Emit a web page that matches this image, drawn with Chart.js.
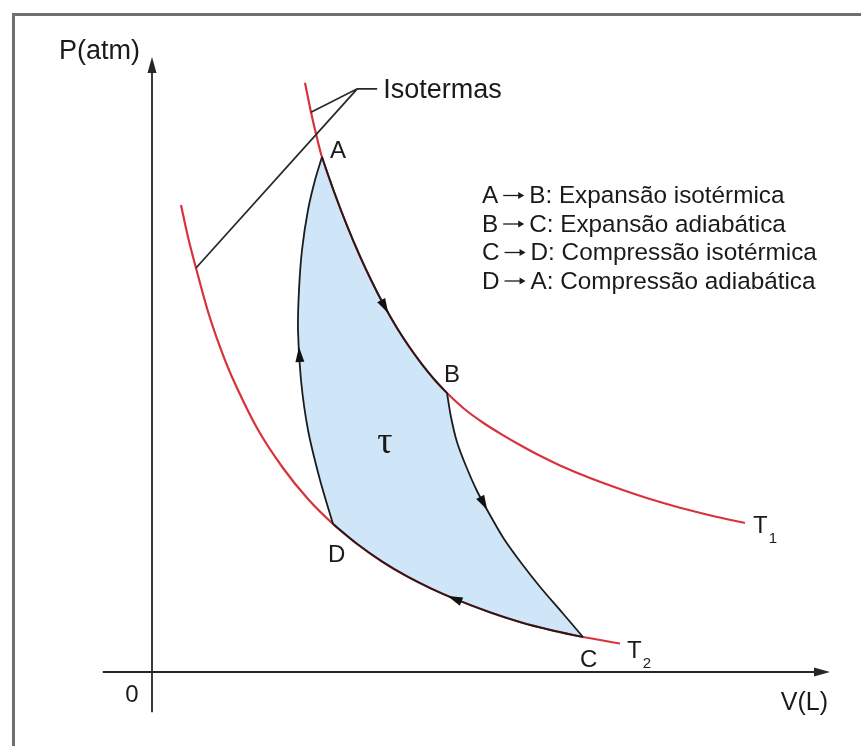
<!DOCTYPE html>
<html><head><meta charset="utf-8">
<script src="https://cdn.jsdelivr.net/npm/chart.js@4.4.0/dist/chart.umd.min.js"></script>
<style>html,body{margin:0;padding:0;background:#fff;} canvas{display:block}</style>
</head><body>
<canvas id="c" width="861" height="746"></canvas>
<script>
// ---- Data (V in L, P in atm; arbitrary drawing units) ----
const isoT1_V = [2.55, 2.65, 2.75, 2.833, 3.042, 3.25, 3.458, 3.667, 3.875, 4.083, 4.292, 4.5, 4.708, 4.917, 5.217, 5.525, 5.833, 6.133, 6.467, 6.8, 7.3, 7.8, 8.3, 8.8, 9.333, 9.883];
const isoT1_P = [9.82, 9.33, 8.9, 8.583, 7.983, 7.44, 6.947, 6.5, 6.095, 5.733, 5.413, 5.127, 4.872, 4.65, 4.375, 4.15, 3.957, 3.783, 3.603, 3.443, 3.233, 3.05, 2.883, 2.738, 2.605, 2.483];
const isoT2_V = [0.483, 0.6, 0.733, 0.933, 1.133, 1.333, 1.75, 2.183, 2.6, 3.017, 3.417, 3.833, 4.233, 4.65, 5.05, 5.633, 6.133, 6.633, 7.183, 7.8];
const isoT2_P = [7.783, 7.25, 6.733, 6.008, 5.417, 4.917, 4.067, 3.4, 2.883, 2.467, 2.135, 1.842, 1.603, 1.392, 1.217, 0.995, 0.833, 0.702, 0.583, 0.475];

// Carnot cycle branches
const AB_V = [2.833, 3.042, 3.25, 3.458, 3.667, 3.875, 4.083, 4.292, 4.5, 4.708, 4.917];
const AB_P = [8.583, 7.983, 7.44, 6.947, 6.5, 6.095, 5.733, 5.413, 5.127, 4.872, 4.65];
const BC_V = [4.917, 4.983, 5.083, 5.233, 5.417, 5.633, 5.867, 6.167, 6.483, 6.842, 7.183];
const BC_P = [4.65, 4.25, 3.833, 3.433, 3.017, 2.617, 2.217, 1.8, 1.4, 0.983, 0.583];
const CD_V = [7.183, 6.633, 6.133, 5.633, 5.05, 4.65, 4.233, 3.833, 3.417, 3.017];
const CD_P = [0.583, 0.702, 0.833, 0.995, 1.217, 1.392, 1.603, 1.842, 2.135, 2.467];
const DA_V = [3.017, 2.8, 2.6, 2.483, 2.433, 2.45, 2.5, 2.6, 2.717, 2.833];
const DA_P = [2.467, 3.2, 4.033, 4.867, 5.7, 6.367, 7.033, 7.7, 8.2, 8.583];

// direction arrows: fractional point index along each branch
const arrowAt = [5, 4.5, 4, 3.5];

// texts
const stateNames = ['A', 'B', 'C', 'D'];
const processTexts = [
  'A \u2192 B: Expans\u00e3o isot\u00e9rmica',
  'B \u2192 C: Expans\u00e3o adiab\u00e1tica',
  'C \u2192 D: Compress\u00e3o isot\u00e9rmica',
  'D \u2192 A: Compress\u00e3o adiab\u00e1tica'
];
const isoLabel = 'Isotermas';
const yTitle = 'P(atm)';
const xTitle = 'V(L)';
const originLabel = '0';
const workLabel = '\u03c4';
const tempNames = [['T', '1'], ['T', '2']];

// axis extents (data units)
const axisVMin = -0.82, axisVMax = 11.3;
const axisPMin = -0.67, axisPMax = 10.25;
const workPos = {v: 3.88, p: 3.65};
const isoAnchor = {v: 3.42, p: 9.72};

// ---- styles ----
const RED = '#d8323c';
const BLACK = '#1c1c1c';
const FILL = '#cfe5f8';
const FONT = '"Liberation Sans", Arial, Helvetica, sans-serif';

const pts = (vs, ps) => vs.map((v, i) => ({x: v, y: ps[i]}));
const branches = [[AB_V, AB_P], [BC_V, BC_P], [CD_V, CD_P], [DA_V, DA_P]];

// closed loop for the shaded work area
const loopV = [].concat(AB_V, BC_V.slice(1), CD_V.slice(1), DA_V.slice(1));
const loopP = [].concat(AB_P, BC_P.slice(1), CD_P.slice(1), DA_P.slice(1));

const decor = {
  id: 'decor',
  beforeDatasetsDraw(chart) {
    const {ctx, scales: {x, y}} = chart;
    ctx.save();
    // frame
    ctx.strokeStyle = '#6f6f6f';
    ctx.lineWidth = 3;
    ctx.strokeRect(13.5, 14.5, 1200, 1200);
    // axes
    const x0 = x.getPixelForValue(0), y0 = y.getPixelForValue(0);
    const xe = x.getPixelForValue(axisVMax), ye = y.getPixelForValue(axisPMax);
    ctx.strokeStyle = '#262626';
    ctx.fillStyle = '#262626';
    ctx.lineWidth = 1.8;
    ctx.beginPath();
    ctx.moveTo(x.getPixelForValue(axisVMin), y0);
    ctx.lineTo(xe - 10, y0);
    ctx.moveTo(x0, y.getPixelForValue(axisPMin));
    ctx.lineTo(x0, ye + 10);
    ctx.stroke();
    ctx.beginPath();
    ctx.moveTo(xe, y0); ctx.lineTo(xe - 16, y0 - 4.5); ctx.lineTo(xe - 16, y0 + 4.5); ctx.closePath();
    ctx.moveTo(x0, ye); ctx.lineTo(x0 - 4.5, ye + 16); ctx.lineTo(x0 + 4.5, ye + 16); ctx.closePath();
    ctx.fill();
    ctx.restore();
  },
  afterDatasetsDraw(chart) {
    const {ctx, scales: {x, y}} = chart;
    const px = (v, p) => [x.getPixelForValue(v), y.getPixelForValue(p)];
    ctx.save();
    // direction arrows on the cycle
    ctx.fillStyle = '#111';
    branches.forEach(([vs, ps], k) => {
      const t = arrowAt[k];
      const i0 = Math.floor(t - 0.001), i1 = Math.ceil(t + 0.001);
      const a = px(vs[Math.floor(t)], ps[Math.floor(t)]);
      const b = px(vs[Math.ceil(t)], ps[Math.ceil(t)]);
      const f = t - Math.floor(t);
      const cx = a[0] + (b[0] - a[0]) * f, cy = a[1] + (b[1] - a[1]) * f;
      const p0 = px(vs[i0], ps[i0]), p1 = px(vs[i1], ps[i1]);
      let dx = p1[0] - p0[0], dy = p1[1] - p0[1];
      const L = Math.hypot(dx, dy); dx /= L; dy /= L;
      const nx = -dy, ny = dx;
      ctx.beginPath();
      ctx.moveTo(cx + dx * 8, cy + dy * 8);
      ctx.lineTo(cx - dx * 7 + nx * 4.5, cy - dy * 7 + ny * 4.5);
      ctx.lineTo(cx - dx * 7 - nx * 4.5, cy - dy * 7 - ny * 4.5);
      ctx.closePath();
      ctx.fill();
    });
    // isotherm pointer lines
    const an = px(isoAnchor.v, isoAnchor.p);
    const t1 = px(isoT1_V[1], isoT1_P[1]);
    const t2 = px(isoT2_V[2], isoT2_P[2]);
    ctx.strokeStyle = '#2a2a2a';
    ctx.lineWidth = 1.8;
    ctx.beginPath();
    ctx.moveTo(t1[0], t1[1]); ctx.lineTo(an[0], an[1]); ctx.lineTo(an[0] + 20, an[1]);
    ctx.moveTo(t2[0], t2[1]); ctx.lineTo(an[0], an[1]);
    ctx.stroke();

    ctx.fillStyle = '#1a1a1a';
    ctx.textBaseline = 'alphabetic';
    ctx.textAlign = 'left';
    ctx.font = '27px ' + FONT;
    ctx.fillText(isoLabel, an[0] + 26, an[1] + 9);

    // state labels
    ctx.font = '24px ' + FONT;
    const offs = [[8, 1], [-3, -11], [-3, 30], [-5, 38]];
    branches.forEach(([vs, ps], k) => {
      const p = px(vs[0], ps[0]);
      ctx.fillText(stateNames[k], p[0] + offs[k][0], p[1] + offs[k][1]);
    });

    // process legend
    ctx.font = '24.3px ' + FONT;
    ctx.strokeStyle = '#1a1a1a';
    ctx.lineWidth = 1.3;
    processTexts.forEach((s, i) => {
      const parts = s.split('\u2192');
      const yb = 203 + i * 28.5;
      let xx = 482;
      const left = parts[0].trim();
      ctx.fillText(left, xx, yb);
      xx += ctx.measureText(left).width + 5;
      const ya = yb - 7.5;
      ctx.beginPath();
      ctx.moveTo(xx, ya); ctx.lineTo(xx + 19, ya);
      ctx.stroke();
      ctx.beginPath();
      ctx.moveTo(xx + 21, ya); ctx.lineTo(xx + 15, ya - 3.5); ctx.lineTo(xx + 15, ya + 3.5); ctx.closePath();
      ctx.fill();
      xx += 26;
      ctx.fillText(parts[1].trim(), xx, yb);
    });

    // temperature labels
    const e1 = px(isoT1_V[isoT1_V.length - 1], isoT1_P[isoT1_P.length - 1]);
    const e2 = px(isoT2_V[isoT2_V.length - 1], isoT2_P[isoT2_P.length - 1]);
    [[e1, 8, 10], [e2, 7, 14]].forEach(([e, ox, oy], i) => {
      ctx.font = '24px ' + FONT;
      ctx.fillText(tempNames[i][0], e[0] + ox, e[1] + oy);
      const w = ctx.measureText(tempNames[i][0]).width;
      ctx.font = '15px ' + FONT;
      ctx.fillText(tempNames[i][1], e[0] + ox + w + 1, e[1] + oy + 10);
    });

    // work symbol
    ctx.font = '38px "Liberation Serif", "DejaVu Serif", serif';
    ctx.textAlign = 'center';
    const w = px(workPos.v, workPos.p);
    ctx.fillText(workLabel, w[0], w[1]);

    // axis titles
    const o = px(0, 0);
    ctx.font = '27px ' + FONT;
    ctx.textAlign = 'right';
    ctx.fillText(yTitle, o[0] - 12, y.getPixelForValue(axisPMax) + 2);
    ctx.font = '25px ' + FONT;
    ctx.fillText(xTitle, x.getPixelForValue(axisVMax) - 2, o[1] + 38);
    ctx.textAlign = 'center';
    ctx.font = '24px ' + FONT;
    ctx.fillText(originLabel, o[0] - 20, o[1] + 30);
    ctx.restore();
  }
};

const lineDs = (label, vs, ps, color, width, order) => ({
  label, data: pts(vs, ps), showLine: true, borderColor: color, borderWidth: width,
  tension: 0.3, pointRadius: 0, pointHoverRadius: 0, fill: false, order
});

new Chart(document.getElementById('c'), {
  type: 'scatter',
  data: {
    datasets: [
      lineDs('A→B', AB_V, AB_P, BLACK, 1.8, 1),
      lineDs('B→C', BC_V, BC_P, BLACK, 1.8, 1),
      lineDs('C→D', CD_V, CD_P, BLACK, 1.8, 1),
      lineDs('D→A', DA_V, DA_P, BLACK, 1.8, 1),
      lineDs('T1', isoT1_V, isoT1_P, RED, 2.2, 2),
      lineDs('T2', isoT2_V, isoT2_P, RED, 2.2, 2),
      {label: 'τ', data: pts(loopV, loopP), showLine: true, borderWidth: 0, borderColor: 'rgba(0,0,0,0)',
       backgroundColor: FILL, fill: 'shape', tension: 0, pointRadius: 0, pointHoverRadius: 0, order: 3}
    ]
  },
  options: {
    responsive: false,
    animation: false,
    devicePixelRatio: 1,
    events: [],
    layout: {padding: 0},
    plugins: {legend: {display: false}, tooltip: {enabled: false}},
    scales: {
      x: {type: 'linear', min: -152 / 60, max: (861 - 152) / 60, display: false},
      y: {type: 'linear', min: -(746 - 672) / 60, max: 672 / 60, display: false}
    }
  },
  plugins: [decor]
});
</script>
</body></html>
